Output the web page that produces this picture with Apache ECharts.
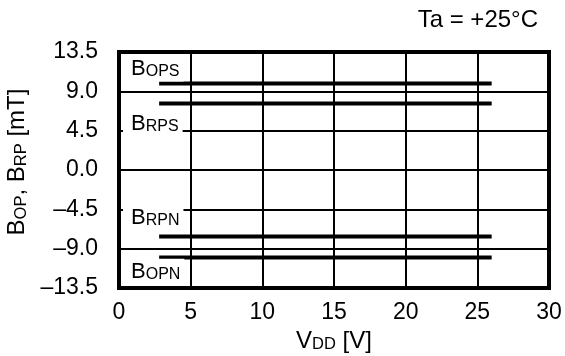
<!DOCTYPE html>
<html>
<head>
<meta charset="utf-8">
<script src="https://cdn.jsdelivr.net/npm/echarts@6/dist/echarts.min.js"></script>
<style>html,body{margin:0;padding:0;background:#fff}#c{width:565px;height:356px}</style>
</head>
<body>
<div id="c"></div>
<script>
// Data
const vdd = [2.8, 26];
const bops = [9.9, 9.9];
const brps = [7.6, 7.6];
const brpn = [-7.6, -7.6];
const bopn = [-10.0, -10.0];
const yTicks = [-13.5, -9.0, -4.5, 0.0, 4.5, 9.0, 13.5];
const xTicks = [0, 5, 10, 15, 20, 25, 30];
const labelMain = ['B', 'B', 'B', 'B'];
const labelSub = ['OPS', 'RPS', 'RPN', 'OPN'];
const labelX = [0.28, 0.28, 0.28, 0.28];
const labelY = [11.6, 5.3, -5.5, -11.65];

const FONT = 'Liberation Sans, Arial, sans-serif';
const chart = echarts.init(document.getElementById('c'));

function lineSeries(vals) {
  return {
    type: 'line',
    data: vdd.map((x, i) => [x, vals[i]]),
    symbol: 'none',
    lineStyle: { color: '#000', width: 4, cap: 'butt' },
    z: 5,
    silent: true
  };
}

const richLbl = {
  b: { fontSize: 22, fontFamily: FONT, color: '#000', verticalAlign: 'bottom', lineHeight: 22 },
  s: { fontSize: 16, fontFamily: FONT, color: '#000', verticalAlign: 'bottom', lineHeight: 19 }
};
const richName = {
  b: { fontSize: 24, fontFamily: FONT, color: '#000', verticalAlign: 'bottom', lineHeight: 24 },
  s: { fontSize: 16.5, fontFamily: FONT, color: '#000', verticalAlign: 'bottom', lineHeight: 20 }
};

chart.setOption({
  animation: false,
  backgroundColor: '#fff',
  title: {
    text: 'Ta = +25°C',
    right: 22,
    top: 3,
    textStyle: { fontSize: 24, fontWeight: 'normal', fontFamily: FONT, color: '#000' }
  },
  grid: {
    left: 119, right: 16, top: 52, bottom: 68,
    containLabel: false, outerBoundsMode: 'none',
    show: true, borderColor: '#000', borderWidth: 4, backgroundColor: 'transparent', z: 10
  },
  xAxis: {
    type: 'value', min: xTicks[0], max: xTicks[xTicks.length - 1], interval: 5,
    axisLine: { show: false }, axisTick: { show: false },
    splitLine: { show: true, lineStyle: { color: '#000', width: 2 } },
    axisLabel: { fontSize: 23, fontFamily: FONT, color: '#000', margin: 13 },
    name: '{b|V}{s|DD}{b| [V]}',
    nameLocation: 'middle', nameGap: 40,
    nameTextStyle: { rich: richName }
  },
  yAxis: {
    type: 'value', min: yTicks[0], max: yTicks[yTicks.length - 1], interval: 4.5,
    axisLine: { show: false }, axisTick: { show: false },
    splitLine: { show: true, lineStyle: { color: '#000', width: 2 } },
    axisLabel: {
      fontSize: 23, fontFamily: FONT, color: '#000', margin: 21,
      formatter: v => (v < 0 ? '\u2013' + Math.abs(v).toFixed(1) : v.toFixed(1))
    },
    name: '{b|B}{s|OP}{b|, B}{s|RP}{b| [mT]}',
    nameLocation: 'middle', nameGap: 84,
    nameTextStyle: { rich: richName, padding: [0, 0, 0, 16] }
  },
  series: [
    lineSeries(bops), lineSeries(brps), lineSeries(brpn), lineSeries(bopn),
    {
      type: 'scatter',
      symbolSize: 0,
      silent: true,
      z: 8,
      itemStyle: { opacity: 1 },
      data: labelX.map((x, i) => [x, labelY[i]]),
      label: {
        show: true,
        position: 'right',
        distance: 0,
        color: '#000',
        opacity: 1,
        backgroundColor: '#fff',
        padding: [2, 4, 2, 8],
        formatter: p => '{b|' + labelMain[p.dataIndex] + '}{s|' + labelSub[p.dataIndex] + '}',
        rich: richLbl
      }
    }
  ]
});
</script>
</body>
</html>
